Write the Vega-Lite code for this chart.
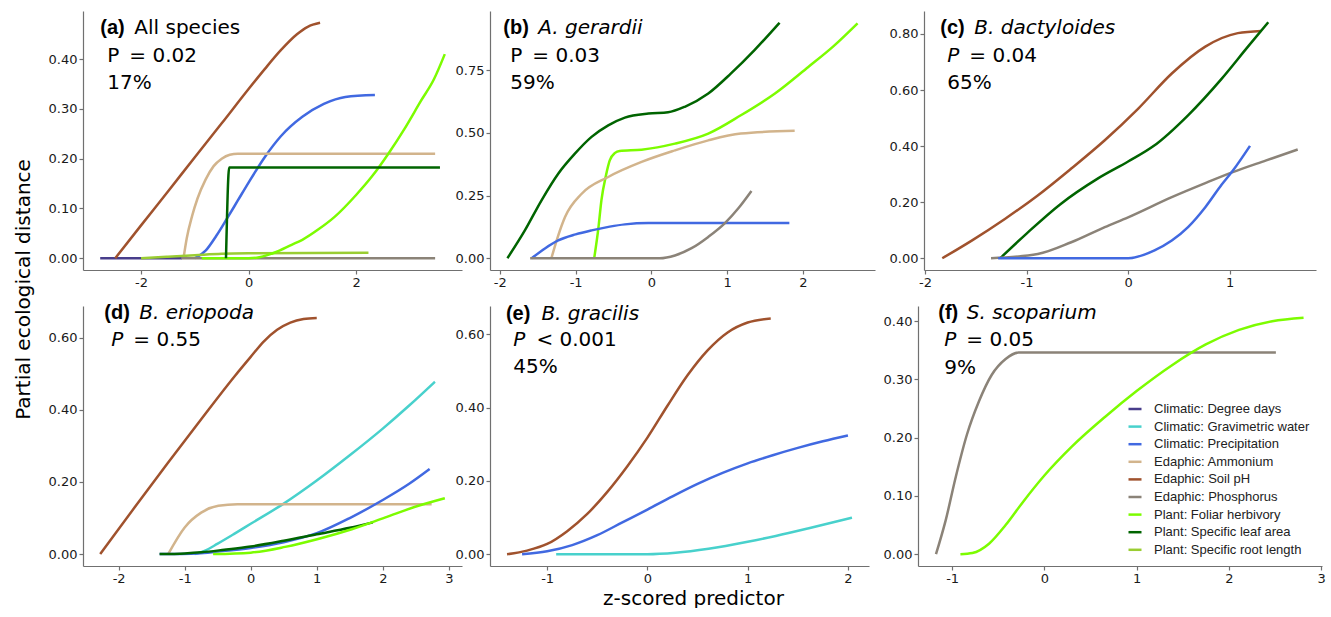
{
  "$schema": "https://vega.github.io/schema/vega-lite/v6.json",
  "background": "white",
  "padding": {"left": 14, "top": 11, "right": 5, "bottom": 0},
  "title": {"text": "Partial ecological distance", "orient": "left", "anchor": "middle", "font": "DejaVu Sans", "fontSize": 20, "fontWeight": "normal", "color": "#000", "offset": 14, "dx": 20},
  "config": {
    "view": {"stroke": null},
    "axis": {"grid": false, "domainColor": "#707070", "domainWidth": 1.2, "tickColor": "#707070", "tickWidth": 1.2, "tickSize": 4, "labelFont": "DejaVu Sans", "labelFontSize": 13, "labelColor": "#1a1a1a", "labelPadding": 2, "labelOverlap": false, "labelFlush": false, "titleFont": "DejaVu Sans", "titleFontSize": 20, "titleFontWeight": "normal", "titleColor": "#000"},
    "text": {"color": "#000"},
    "line": {"strokeWidth": 2.5, "interpolate": "monotone"}
  },
  "datasets": {
    "notes": [
      {"panel": "a", "tag": "(a)", "species": "All species", "p": "P", "stat": "= 0.02", "pct": "17%"},
      {"panel": "b", "tag": "(b)", "species": "A. gerardii", "p": "P", "stat": "= 0.03", "pct": "59%"},
      {"panel": "c", "tag": "(c)", "species": "B. dactyloides", "p": "P", "stat": "= 0.04", "pct": "65%"},
      {"panel": "d", "tag": "(d)", "species": "B. eriopoda", "p": "P", "stat": "= 0.55", "pct": ""},
      {"panel": "e", "tag": "(e)", "species": "B. gracilis", "p": "P", "stat": "< 0.001", "pct": "45%"},
      {"panel": "f", "tag": "(f)", "species": "S. scoparium", "p": "P", "stat": "= 0.05", "pct": "9%"}
    ],
    "curves": [
      {"panel": "a", "predictor": "Climatic: Degree days", "x": -2.76, "y": 0},
      {"panel": "a", "predictor": "Climatic: Degree days", "x": -1.24, "y": 0},
      {"panel": "a", "predictor": "Edaphic: Soil pH", "x": -2.48, "y": 0},
      {"panel": "a", "predictor": "Edaphic: Soil pH", "x": -2.0, "y": 0.066},
      {"panel": "a", "predictor": "Edaphic: Soil pH", "x": -1.5, "y": 0.134},
      {"panel": "a", "predictor": "Edaphic: Soil pH", "x": -1.0, "y": 0.203},
      {"panel": "a", "predictor": "Edaphic: Soil pH", "x": -0.5, "y": 0.271},
      {"panel": "a", "predictor": "Edaphic: Soil pH", "x": 0.0, "y": 0.34},
      {"panel": "a", "predictor": "Edaphic: Soil pH", "x": 0.3, "y": 0.38},
      {"panel": "a", "predictor": "Edaphic: Soil pH", "x": 0.6, "y": 0.418},
      {"panel": "a", "predictor": "Edaphic: Soil pH", "x": 0.9, "y": 0.45},
      {"panel": "a", "predictor": "Edaphic: Soil pH", "x": 1.1, "y": 0.465},
      {"panel": "a", "predictor": "Edaphic: Soil pH", "x": 1.33, "y": 0.473},
      {"panel": "a", "predictor": "Climatic: Precipitation", "x": -1.0, "y": 0},
      {"panel": "a", "predictor": "Climatic: Precipitation", "x": -0.8, "y": 0.015},
      {"panel": "a", "predictor": "Climatic: Precipitation", "x": -0.6, "y": 0.045},
      {"panel": "a", "predictor": "Climatic: Precipitation", "x": -0.4, "y": 0.08},
      {"panel": "a", "predictor": "Climatic: Precipitation", "x": -0.2, "y": 0.116},
      {"panel": "a", "predictor": "Climatic: Precipitation", "x": 0.0, "y": 0.152},
      {"panel": "a", "predictor": "Climatic: Precipitation", "x": 0.3, "y": 0.203},
      {"panel": "a", "predictor": "Climatic: Precipitation", "x": 0.6, "y": 0.245},
      {"panel": "a", "predictor": "Climatic: Precipitation", "x": 1.0, "y": 0.284},
      {"panel": "a", "predictor": "Climatic: Precipitation", "x": 1.4, "y": 0.31},
      {"panel": "a", "predictor": "Climatic: Precipitation", "x": 1.8, "y": 0.324},
      {"panel": "a", "predictor": "Climatic: Precipitation", "x": 2.35, "y": 0.328},
      {"panel": "a", "predictor": "Edaphic: Ammonium", "x": -1.21, "y": 0},
      {"panel": "a", "predictor": "Edaphic: Ammonium", "x": -1.15, "y": 0.04},
      {"panel": "a", "predictor": "Edaphic: Ammonium", "x": -1.05, "y": 0.085},
      {"panel": "a", "predictor": "Edaphic: Ammonium", "x": -0.95, "y": 0.12},
      {"panel": "a", "predictor": "Edaphic: Ammonium", "x": -0.8, "y": 0.158},
      {"panel": "a", "predictor": "Edaphic: Ammonium", "x": -0.65, "y": 0.185},
      {"panel": "a", "predictor": "Edaphic: Ammonium", "x": -0.5, "y": 0.2},
      {"panel": "a", "predictor": "Edaphic: Ammonium", "x": -0.35, "y": 0.208},
      {"panel": "a", "predictor": "Edaphic: Ammonium", "x": -0.2, "y": 0.21},
      {"panel": "a", "predictor": "Edaphic: Ammonium", "x": 3.47, "y": 0.21},
      {"panel": "a", "predictor": "Plant: Specific root length", "x": -2.0, "y": 0},
      {"panel": "a", "predictor": "Plant: Specific root length", "x": -1.5, "y": 0.003},
      {"panel": "a", "predictor": "Plant: Specific root length", "x": -1.0, "y": 0.006},
      {"panel": "a", "predictor": "Plant: Specific root length", "x": -0.5, "y": 0.009},
      {"panel": "a", "predictor": "Plant: Specific root length", "x": 0.0, "y": 0.01},
      {"panel": "a", "predictor": "Plant: Specific root length", "x": 2.23, "y": 0.011},
      {"panel": "a", "predictor": "Edaphic: Phosphorus", "x": -1.25, "y": 0},
      {"panel": "a", "predictor": "Edaphic: Phosphorus", "x": 3.47, "y": 0},
      {"panel": "a", "predictor": "Plant: Foliar herbivory", "x": -0.87, "y": 0},
      {"panel": "a", "predictor": "Plant: Foliar herbivory", "x": 0.0, "y": 0},
      {"panel": "a", "predictor": "Plant: Foliar herbivory", "x": 0.2, "y": 0.002},
      {"panel": "a", "predictor": "Plant: Foliar herbivory", "x": 0.5, "y": 0.012},
      {"panel": "a", "predictor": "Plant: Foliar herbivory", "x": 0.8, "y": 0.027},
      {"panel": "a", "predictor": "Plant: Foliar herbivory", "x": 1.0, "y": 0.037},
      {"panel": "a", "predictor": "Plant: Foliar herbivory", "x": 1.3, "y": 0.058},
      {"panel": "a", "predictor": "Plant: Foliar herbivory", "x": 1.6, "y": 0.083},
      {"panel": "a", "predictor": "Plant: Foliar herbivory", "x": 2.0, "y": 0.127},
      {"panel": "a", "predictor": "Plant: Foliar herbivory", "x": 2.3, "y": 0.165},
      {"panel": "a", "predictor": "Plant: Foliar herbivory", "x": 2.6, "y": 0.21},
      {"panel": "a", "predictor": "Plant: Foliar herbivory", "x": 2.9, "y": 0.26},
      {"panel": "a", "predictor": "Plant: Foliar herbivory", "x": 3.2, "y": 0.315},
      {"panel": "a", "predictor": "Plant: Foliar herbivory", "x": 3.45, "y": 0.36},
      {"panel": "a", "predictor": "Plant: Foliar herbivory", "x": 3.65, "y": 0.41},
      {"panel": "a", "predictor": "Plant: Specific leaf area", "x": -0.42, "y": 0},
      {"panel": "a", "predictor": "Plant: Specific leaf area", "x": -0.36, "y": 0.182},
      {"panel": "a", "predictor": "Plant: Specific leaf area", "x": 3.56, "y": 0.182},

      {"panel": "b", "predictor": "Plant: Specific leaf area", "x": -1.9, "y": 0},
      {"panel": "b", "predictor": "Plant: Specific leaf area", "x": -1.67, "y": 0.111},
      {"panel": "b", "predictor": "Plant: Specific leaf area", "x": -1.45, "y": 0.231},
      {"panel": "b", "predictor": "Plant: Specific leaf area", "x": -1.23, "y": 0.337},
      {"panel": "b", "predictor": "Plant: Specific leaf area", "x": -1.01, "y": 0.417},
      {"panel": "b", "predictor": "Plant: Specific leaf area", "x": -0.79, "y": 0.484},
      {"panel": "b", "predictor": "Plant: Specific leaf area", "x": -0.57, "y": 0.53},
      {"panel": "b", "predictor": "Plant: Specific leaf area", "x": -0.35, "y": 0.561},
      {"panel": "b", "predictor": "Plant: Specific leaf area", "x": -0.04, "y": 0.577},
      {"panel": "b", "predictor": "Plant: Specific leaf area", "x": 0.22, "y": 0.582},
      {"panel": "b", "predictor": "Plant: Specific leaf area", "x": 0.44, "y": 0.604},
      {"panel": "b", "predictor": "Plant: Specific leaf area", "x": 0.75, "y": 0.657},
      {"panel": "b", "predictor": "Plant: Specific leaf area", "x": 1.05, "y": 0.737},
      {"panel": "b", "predictor": "Plant: Specific leaf area", "x": 1.36, "y": 0.83},
      {"panel": "b", "predictor": "Plant: Specific leaf area", "x": 1.69, "y": 0.939},
      {"panel": "b", "predictor": "Plant: Foliar herbivory", "x": -0.755, "y": 0},
      {"panel": "b", "predictor": "Plant: Foliar herbivory", "x": -0.7, "y": 0.12},
      {"panel": "b", "predictor": "Plant: Foliar herbivory", "x": -0.66, "y": 0.231},
      {"panel": "b", "predictor": "Plant: Foliar herbivory", "x": -0.6, "y": 0.33},
      {"panel": "b", "predictor": "Plant: Foliar herbivory", "x": -0.55, "y": 0.39},
      {"panel": "b", "predictor": "Plant: Foliar herbivory", "x": -0.48, "y": 0.42},
      {"panel": "b", "predictor": "Plant: Foliar herbivory", "x": -0.42, "y": 0.428},
      {"panel": "b", "predictor": "Plant: Foliar herbivory", "x": -0.13, "y": 0.433},
      {"panel": "b", "predictor": "Plant: Foliar herbivory", "x": 0.31, "y": 0.457},
      {"panel": "b", "predictor": "Plant: Foliar herbivory", "x": 0.75, "y": 0.497},
      {"panel": "b", "predictor": "Plant: Foliar herbivory", "x": 1.18, "y": 0.57},
      {"panel": "b", "predictor": "Plant: Foliar herbivory", "x": 1.63, "y": 0.657},
      {"panel": "b", "predictor": "Plant: Foliar herbivory", "x": 2.07, "y": 0.763},
      {"panel": "b", "predictor": "Plant: Foliar herbivory", "x": 2.4, "y": 0.845},
      {"panel": "b", "predictor": "Plant: Foliar herbivory", "x": 2.72, "y": 0.937},
      {"panel": "b", "predictor": "Edaphic: Ammonium", "x": -1.32, "y": 0},
      {"panel": "b", "predictor": "Edaphic: Ammonium", "x": -1.23, "y": 0.09},
      {"panel": "b", "predictor": "Edaphic: Ammonium", "x": -1.14, "y": 0.164},
      {"panel": "b", "predictor": "Edaphic: Ammonium", "x": -0.92, "y": 0.257},
      {"panel": "b", "predictor": "Edaphic: Ammonium", "x": -0.57, "y": 0.324},
      {"panel": "b", "predictor": "Edaphic: Ammonium", "x": -0.13, "y": 0.384},
      {"panel": "b", "predictor": "Edaphic: Ammonium", "x": 0.31, "y": 0.43},
      {"panel": "b", "predictor": "Edaphic: Ammonium", "x": 0.75, "y": 0.47},
      {"panel": "b", "predictor": "Edaphic: Ammonium", "x": 1.18, "y": 0.497},
      {"panel": "b", "predictor": "Edaphic: Ammonium", "x": 1.89, "y": 0.508},
      {"panel": "b", "predictor": "Climatic: Precipitation", "x": -1.58, "y": 0},
      {"panel": "b", "predictor": "Climatic: Precipitation", "x": -1.4, "y": 0.04},
      {"panel": "b", "predictor": "Climatic: Precipitation", "x": -1.23, "y": 0.071},
      {"panel": "b", "predictor": "Climatic: Precipitation", "x": -1.0, "y": 0.095},
      {"panel": "b", "predictor": "Climatic: Precipitation", "x": -0.79, "y": 0.111},
      {"panel": "b", "predictor": "Climatic: Precipitation", "x": -0.55, "y": 0.126},
      {"panel": "b", "predictor": "Climatic: Precipitation", "x": -0.35, "y": 0.135},
      {"panel": "b", "predictor": "Climatic: Precipitation", "x": -0.04, "y": 0.14},
      {"panel": "b", "predictor": "Climatic: Precipitation", "x": 1.82, "y": 0.14},
      {"panel": "b", "predictor": "Edaphic: Phosphorus", "x": -1.6, "y": 0},
      {"panel": "b", "predictor": "Edaphic: Phosphorus", "x": 0.11, "y": 0},
      {"panel": "b", "predictor": "Edaphic: Phosphorus", "x": 0.31, "y": 0.011},
      {"panel": "b", "predictor": "Edaphic: Phosphorus", "x": 0.53, "y": 0.04},
      {"panel": "b", "predictor": "Edaphic: Phosphorus", "x": 0.75, "y": 0.085},
      {"panel": "b", "predictor": "Edaphic: Phosphorus", "x": 0.97, "y": 0.14},
      {"panel": "b", "predictor": "Edaphic: Phosphorus", "x": 1.15, "y": 0.2},
      {"panel": "b", "predictor": "Edaphic: Phosphorus", "x": 1.32, "y": 0.268},

      {"panel": "c", "predictor": "Edaphic: Soil pH", "x": -1.83, "y": 0},
      {"panel": "c", "predictor": "Edaphic: Soil pH", "x": -1.54, "y": 0.063},
      {"panel": "c", "predictor": "Edaphic: Soil pH", "x": -1.21, "y": 0.141},
      {"panel": "c", "predictor": "Edaphic: Soil pH", "x": -0.89, "y": 0.224},
      {"panel": "c", "predictor": "Edaphic: Soil pH", "x": -0.56, "y": 0.32},
      {"panel": "c", "predictor": "Edaphic: Soil pH", "x": -0.23, "y": 0.421},
      {"panel": "c", "predictor": "Edaphic: Soil pH", "x": 0.1, "y": 0.534},
      {"panel": "c", "predictor": "Edaphic: Soil pH", "x": 0.43, "y": 0.659},
      {"panel": "c", "predictor": "Edaphic: Soil pH", "x": 0.76, "y": 0.755},
      {"panel": "c", "predictor": "Edaphic: Soil pH", "x": 1.08, "y": 0.803},
      {"panel": "c", "predictor": "Edaphic: Soil pH", "x": 1.31, "y": 0.811},
      {"panel": "c", "predictor": "Plant: Specific leaf area", "x": -1.26, "y": 0},
      {"panel": "c", "predictor": "Plant: Specific leaf area", "x": -1.0, "y": 0.088},
      {"panel": "c", "predictor": "Plant: Specific leaf area", "x": -0.67, "y": 0.192},
      {"panel": "c", "predictor": "Plant: Specific leaf area", "x": -0.3, "y": 0.284},
      {"panel": "c", "predictor": "Plant: Specific leaf area", "x": 0.0, "y": 0.345},
      {"panel": "c", "predictor": "Plant: Specific leaf area", "x": 0.25, "y": 0.4},
      {"panel": "c", "predictor": "Plant: Specific leaf area", "x": 0.59, "y": 0.51},
      {"panel": "c", "predictor": "Plant: Specific leaf area", "x": 0.92, "y": 0.64},
      {"panel": "c", "predictor": "Plant: Specific leaf area", "x": 1.18, "y": 0.755},
      {"panel": "c", "predictor": "Plant: Specific leaf area", "x": 1.38, "y": 0.842},
      {"panel": "c", "predictor": "Edaphic: Phosphorus", "x": -1.35, "y": 0},
      {"panel": "c", "predictor": "Edaphic: Phosphorus", "x": -0.89, "y": 0.015},
      {"panel": "c", "predictor": "Edaphic: Phosphorus", "x": -0.56, "y": 0.057},
      {"panel": "c", "predictor": "Edaphic: Phosphorus", "x": -0.23, "y": 0.111},
      {"panel": "c", "predictor": "Edaphic: Phosphorus", "x": 0.0, "y": 0.146},
      {"panel": "c", "predictor": "Edaphic: Phosphorus", "x": 0.43, "y": 0.218},
      {"panel": "c", "predictor": "Edaphic: Phosphorus", "x": 0.76, "y": 0.268},
      {"panel": "c", "predictor": "Edaphic: Phosphorus", "x": 1.03, "y": 0.307},
      {"panel": "c", "predictor": "Edaphic: Phosphorus", "x": 1.36, "y": 0.349},
      {"panel": "c", "predictor": "Edaphic: Phosphorus", "x": 1.67, "y": 0.388},
      {"panel": "c", "predictor": "Climatic: Precipitation", "x": -1.28, "y": 0},
      {"panel": "c", "predictor": "Climatic: Precipitation", "x": 0.0, "y": 0},
      {"panel": "c", "predictor": "Climatic: Precipitation", "x": 0.26, "y": 0.028},
      {"panel": "c", "predictor": "Climatic: Precipitation", "x": 0.43, "y": 0.063},
      {"panel": "c", "predictor": "Climatic: Precipitation", "x": 0.59, "y": 0.111},
      {"panel": "c", "predictor": "Climatic: Precipitation", "x": 0.76, "y": 0.182},
      {"panel": "c", "predictor": "Climatic: Precipitation", "x": 0.92, "y": 0.262},
      {"panel": "c", "predictor": "Climatic: Precipitation", "x": 1.03, "y": 0.312},
      {"panel": "c", "predictor": "Climatic: Precipitation", "x": 1.2, "y": 0.401},

      {"panel": "d", "predictor": "Edaphic: Soil pH", "x": -2.28, "y": 0},
      {"panel": "d", "predictor": "Edaphic: Soil pH", "x": -1.76, "y": 0.129},
      {"panel": "d", "predictor": "Edaphic: Soil pH", "x": -1.25, "y": 0.254},
      {"panel": "d", "predictor": "Edaphic: Soil pH", "x": -0.75, "y": 0.374},
      {"panel": "d", "predictor": "Edaphic: Soil pH", "x": -0.24, "y": 0.494},
      {"panel": "d", "predictor": "Edaphic: Soil pH", "x": 0.0, "y": 0.547},
      {"panel": "d", "predictor": "Edaphic: Soil pH", "x": 0.2, "y": 0.59},
      {"panel": "d", "predictor": "Edaphic: Soil pH", "x": 0.4, "y": 0.622},
      {"panel": "d", "predictor": "Edaphic: Soil pH", "x": 0.6, "y": 0.642},
      {"panel": "d", "predictor": "Edaphic: Soil pH", "x": 0.8, "y": 0.652},
      {"panel": "d", "predictor": "Edaphic: Soil pH", "x": 1.0, "y": 0.655},
      {"panel": "d", "predictor": "Climatic: Gravimetric water", "x": -0.85, "y": 0},
      {"panel": "d", "predictor": "Climatic: Gravimetric water", "x": -0.7, "y": 0.009},
      {"panel": "d", "predictor": "Climatic: Gravimetric water", "x": -0.5, "y": 0.029},
      {"panel": "d", "predictor": "Climatic: Gravimetric water", "x": -0.25, "y": 0.056},
      {"panel": "d", "predictor": "Climatic: Gravimetric water", "x": 0.0, "y": 0.084},
      {"panel": "d", "predictor": "Climatic: Gravimetric water", "x": 0.5, "y": 0.14},
      {"panel": "d", "predictor": "Climatic: Gravimetric water", "x": 1.0, "y": 0.204},
      {"panel": "d", "predictor": "Climatic: Gravimetric water", "x": 1.5, "y": 0.274},
      {"panel": "d", "predictor": "Climatic: Gravimetric water", "x": 2.0, "y": 0.348},
      {"panel": "d", "predictor": "Climatic: Gravimetric water", "x": 2.4, "y": 0.412},
      {"panel": "d", "predictor": "Climatic: Gravimetric water", "x": 2.79, "y": 0.478},
      {"panel": "d", "predictor": "Edaphic: Ammonium", "x": -1.25, "y": 0},
      {"panel": "d", "predictor": "Edaphic: Ammonium", "x": -1.0, "y": 0.074},
      {"panel": "d", "predictor": "Edaphic: Ammonium", "x": -0.75, "y": 0.115},
      {"panel": "d", "predictor": "Edaphic: Ammonium", "x": -0.49, "y": 0.134},
      {"panel": "d", "predictor": "Edaphic: Ammonium", "x": -0.2, "y": 0.1385},
      {"panel": "d", "predictor": "Edaphic: Ammonium", "x": 2.74, "y": 0.1385},
      {"panel": "d", "predictor": "Climatic: Precipitation", "x": -1.38, "y": 0},
      {"panel": "d", "predictor": "Climatic: Precipitation", "x": -0.8, "y": 0.002},
      {"panel": "d", "predictor": "Climatic: Precipitation", "x": -0.5, "y": 0.007},
      {"panel": "d", "predictor": "Climatic: Precipitation", "x": 0.0, "y": 0.017},
      {"panel": "d", "predictor": "Climatic: Precipitation", "x": 0.5, "y": 0.033},
      {"panel": "d", "predictor": "Climatic: Precipitation", "x": 1.0, "y": 0.058},
      {"panel": "d", "predictor": "Climatic: Precipitation", "x": 1.5, "y": 0.1},
      {"panel": "d", "predictor": "Climatic: Precipitation", "x": 2.0, "y": 0.15},
      {"panel": "d", "predictor": "Climatic: Precipitation", "x": 2.4, "y": 0.195},
      {"panel": "d", "predictor": "Climatic: Precipitation", "x": 2.71, "y": 0.236},
      {"panel": "d", "predictor": "Plant: Specific leaf area", "x": -1.38, "y": 0},
      {"panel": "d", "predictor": "Plant: Specific leaf area", "x": -1.0, "y": 0.002},
      {"panel": "d", "predictor": "Plant: Specific leaf area", "x": -0.75, "y": 0.005},
      {"panel": "d", "predictor": "Plant: Specific leaf area", "x": -0.4, "y": 0.012},
      {"panel": "d", "predictor": "Plant: Specific leaf area", "x": 0.0, "y": 0.021},
      {"panel": "d", "predictor": "Plant: Specific leaf area", "x": 0.5, "y": 0.037},
      {"panel": "d", "predictor": "Plant: Specific leaf area", "x": 1.0, "y": 0.055},
      {"panel": "d", "predictor": "Plant: Specific leaf area", "x": 1.5, "y": 0.073},
      {"panel": "d", "predictor": "Plant: Specific leaf area", "x": 1.85, "y": 0.088},
      {"panel": "d", "predictor": "Plant: Foliar herbivory", "x": -0.57, "y": 0},
      {"panel": "d", "predictor": "Plant: Foliar herbivory", "x": 0.0, "y": 0.004},
      {"panel": "d", "predictor": "Plant: Foliar herbivory", "x": 0.52, "y": 0.02},
      {"panel": "d", "predictor": "Plant: Foliar herbivory", "x": 1.02, "y": 0.042},
      {"panel": "d", "predictor": "Plant: Foliar herbivory", "x": 1.53, "y": 0.069},
      {"panel": "d", "predictor": "Plant: Foliar herbivory", "x": 2.03, "y": 0.101},
      {"panel": "d", "predictor": "Plant: Foliar herbivory", "x": 2.54, "y": 0.134},
      {"panel": "d", "predictor": "Plant: Foliar herbivory", "x": 2.94, "y": 0.155},

      {"panel": "e", "predictor": "Edaphic: Soil pH", "x": -1.4, "y": 0},
      {"panel": "e", "predictor": "Edaphic: Soil pH", "x": -1.2, "y": 0.01},
      {"panel": "e", "predictor": "Edaphic: Soil pH", "x": -1.0, "y": 0.028},
      {"panel": "e", "predictor": "Edaphic: Soil pH", "x": -0.8, "y": 0.063},
      {"panel": "e", "predictor": "Edaphic: Soil pH", "x": -0.6, "y": 0.11},
      {"panel": "e", "predictor": "Edaphic: Soil pH", "x": -0.4, "y": 0.17},
      {"panel": "e", "predictor": "Edaphic: Soil pH", "x": -0.2, "y": 0.24},
      {"panel": "e", "predictor": "Edaphic: Soil pH", "x": 0.0, "y": 0.318},
      {"panel": "e", "predictor": "Edaphic: Soil pH", "x": 0.2, "y": 0.405},
      {"panel": "e", "predictor": "Edaphic: Soil pH", "x": 0.4, "y": 0.488},
      {"panel": "e", "predictor": "Edaphic: Soil pH", "x": 0.6, "y": 0.556},
      {"panel": "e", "predictor": "Edaphic: Soil pH", "x": 0.8, "y": 0.605},
      {"panel": "e", "predictor": "Edaphic: Soil pH", "x": 1.0, "y": 0.632},
      {"panel": "e", "predictor": "Edaphic: Soil pH", "x": 1.23, "y": 0.643},
      {"panel": "e", "predictor": "Climatic: Precipitation", "x": -1.25, "y": 0},
      {"panel": "e", "predictor": "Climatic: Precipitation", "x": -1.0, "y": 0.008},
      {"panel": "e", "predictor": "Climatic: Precipitation", "x": -0.75, "y": 0.025},
      {"panel": "e", "predictor": "Climatic: Precipitation", "x": -0.5, "y": 0.052},
      {"panel": "e", "predictor": "Climatic: Precipitation", "x": -0.25, "y": 0.087},
      {"panel": "e", "predictor": "Climatic: Precipitation", "x": 0.0, "y": 0.122},
      {"panel": "e", "predictor": "Climatic: Precipitation", "x": 0.25, "y": 0.158},
      {"panel": "e", "predictor": "Climatic: Precipitation", "x": 0.5, "y": 0.192},
      {"panel": "e", "predictor": "Climatic: Precipitation", "x": 0.75, "y": 0.222},
      {"panel": "e", "predictor": "Climatic: Precipitation", "x": 1.0, "y": 0.248},
      {"panel": "e", "predictor": "Climatic: Precipitation", "x": 1.25, "y": 0.27},
      {"panel": "e", "predictor": "Climatic: Precipitation", "x": 1.5, "y": 0.29},
      {"panel": "e", "predictor": "Climatic: Precipitation", "x": 1.75, "y": 0.308},
      {"panel": "e", "predictor": "Climatic: Precipitation", "x": 2.0, "y": 0.324},
      {"panel": "e", "predictor": "Climatic: Gravimetric water", "x": -0.91, "y": 0},
      {"panel": "e", "predictor": "Climatic: Gravimetric water", "x": 0.0, "y": 0},
      {"panel": "e", "predictor": "Climatic: Gravimetric water", "x": 0.28, "y": 0.004},
      {"panel": "e", "predictor": "Climatic: Gravimetric water", "x": 0.61, "y": 0.015},
      {"panel": "e", "predictor": "Climatic: Gravimetric water", "x": 1.0, "y": 0.034},
      {"panel": "e", "predictor": "Climatic: Gravimetric water", "x": 1.28, "y": 0.05},
      {"panel": "e", "predictor": "Climatic: Gravimetric water", "x": 1.61, "y": 0.071},
      {"panel": "e", "predictor": "Climatic: Gravimetric water", "x": 2.04, "y": 0.1},

      {"panel": "f", "predictor": "Edaphic: Phosphorus", "x": -1.175, "y": 0},
      {"panel": "f", "predictor": "Edaphic: Phosphorus", "x": -1.07, "y": 0.058},
      {"panel": "f", "predictor": "Edaphic: Phosphorus", "x": -0.96, "y": 0.133},
      {"panel": "f", "predictor": "Edaphic: Phosphorus", "x": -0.84, "y": 0.205},
      {"panel": "f", "predictor": "Edaphic: Phosphorus", "x": -0.71, "y": 0.262},
      {"panel": "f", "predictor": "Edaphic: Phosphorus", "x": -0.57, "y": 0.308},
      {"panel": "f", "predictor": "Edaphic: Phosphorus", "x": -0.42, "y": 0.335},
      {"panel": "f", "predictor": "Edaphic: Phosphorus", "x": -0.28, "y": 0.346},
      {"panel": "f", "predictor": "Edaphic: Phosphorus", "x": 2.51, "y": 0.346},
      {"panel": "f", "predictor": "Plant: Foliar herbivory", "x": -0.91, "y": 0},
      {"panel": "f", "predictor": "Plant: Foliar herbivory", "x": -0.78, "y": 0.002},
      {"panel": "f", "predictor": "Plant: Foliar herbivory", "x": -0.6, "y": 0.018},
      {"panel": "f", "predictor": "Plant: Foliar herbivory", "x": -0.42, "y": 0.05},
      {"panel": "f", "predictor": "Plant: Foliar herbivory", "x": -0.24, "y": 0.088},
      {"panel": "f", "predictor": "Plant: Foliar herbivory", "x": 0.0, "y": 0.135},
      {"panel": "f", "predictor": "Plant: Foliar herbivory", "x": 0.3, "y": 0.185},
      {"panel": "f", "predictor": "Plant: Foliar herbivory", "x": 0.66, "y": 0.236},
      {"panel": "f", "predictor": "Plant: Foliar herbivory", "x": 1.0, "y": 0.28},
      {"panel": "f", "predictor": "Plant: Foliar herbivory", "x": 1.38, "y": 0.324},
      {"panel": "f", "predictor": "Plant: Foliar herbivory", "x": 1.75, "y": 0.36},
      {"panel": "f", "predictor": "Plant: Foliar herbivory", "x": 2.11, "y": 0.385},
      {"panel": "f", "predictor": "Plant: Foliar herbivory", "x": 2.47, "y": 0.4},
      {"panel": "f", "predictor": "Plant: Foliar herbivory", "x": 2.81, "y": 0.406}
    ]
  },
  "columns": 3,
  "bounds": "flush",
  "spacing": {"row": 36, "column": 28},
  "resolve": {"scale": {"color": "independent"}, "legend": {"color": "independent"}},
  "concat": [
    {
      "width": 379, "height": 259,
      "layer": [
        {"data": {"name": "curves"}, "transform": [{"filter": "datum.panel === 'a'"}],
         "mark": {"type": "line"},
         "encoding": {
           "x": {"field": "x", "type": "quantitative", "scale": {"domain": [-3.08, 3.97], "nice": false, "zero": false}, "axis": {"title": null, "values": [-2, 0, 2], "labelExpr": "'' + datum.value"}},
           "y": {"field": "y", "type": "quantitative", "scale": {"domain": [-0.0237, 0.4967], "nice": false, "zero": false}, "axis": {"title": null, "values": [0, 0.1, 0.2, 0.3, 0.4], "format": ".2f"}},
           "color": {"field": "predictor", "type": "nominal", "legend": null,
             "scale": {"domain": ["Climatic: Degree days", "Climatic: Gravimetric water", "Climatic: Precipitation", "Edaphic: Ammonium", "Edaphic: Soil pH", "Edaphic: Phosphorus", "Plant: Foliar herbivory", "Plant: Specific leaf area", "Plant: Specific root length"],
                       "range": ["#483D8B", "#48D1CC", "#4169E1", "#D2B48C", "#A0522D", "#8B8378", "#7CFC00", "#006400", "#9ACD32"]}}
         }},
        {"data": {"name": "notes"}, "transform": [{"filter": "datum.panel === 'a'"}],
         "mark": {"type": "text", "align": "left", "baseline": "alphabetic", "font": "Liberation Sans", "fontWeight": "bold", "fontSize": 20},
         "encoding": {"x": {"datum": -2.758, "title": null}, "y": {"datum": 0.4513, "title": null}, "text": {"field": "tag"}}},
        {"data": {"name": "notes"}, "transform": [{"filter": "datum.panel === 'a'"}],
         "mark": {"type": "text", "align": "left", "baseline": "alphabetic", "font": "DejaVu Sans", "fontSize": 20, "dx": 34},
         "encoding": {"x": {"datum": -2.758, "title": null}, "y": {"datum": 0.4513, "title": null}, "text": {"field": "species"}}},
        {"data": {"name": "notes"}, "transform": [{"filter": "datum.panel === 'a'"}],
         "mark": {"type": "text", "align": "left", "baseline": "alphabetic", "font": "DejaVu Sans", "fontSize": 20, "dx": 7, "dy": 28.4},
         "encoding": {"x": {"datum": -2.758, "title": null}, "y": {"datum": 0.4513, "title": null}, "text": {"field": "p"}}},
        {"data": {"name": "notes"}, "transform": [{"filter": "datum.panel === 'a'"}],
         "mark": {"type": "text", "align": "left", "baseline": "alphabetic", "font": "DejaVu Sans", "fontSize": 20, "dx": 29, "dy": 28.4},
         "encoding": {"x": {"datum": -2.758, "title": null}, "y": {"datum": 0.4513, "title": null}, "text": {"field": "stat"}}},
        {"data": {"name": "notes"}, "transform": [{"filter": "datum.panel === 'a'"}],
         "mark": {"type": "text", "align": "left", "baseline": "alphabetic", "font": "DejaVu Sans", "fontSize": 20, "dx": 7, "dy": 55},
         "encoding": {"x": {"datum": -2.758, "title": null}, "y": {"datum": 0.4513, "title": null}, "text": {"field": "pct"}}}
      ]
    },
    {
      "width": 385, "height": 259,
      "layer": [
        {"data": {"name": "curves"}, "transform": [{"filter": "datum.panel === 'b'"}],
         "mark": {"type": "line"},
         "encoding": {
           "x": {"field": "x", "type": "quantitative", "scale": {"domain": [-2.13, 2.95], "nice": false, "zero": false}, "axis": {"title": null, "values": [-2, -1, 0, 1, 2], "labelExpr": "'' + datum.value"}},
           "y": {"field": "y", "type": "quantitative", "scale": {"domain": [-0.047, 0.986], "nice": false, "zero": false}, "axis": {"title": null, "values": [0, 0.25, 0.5, 0.75], "format": ".2f"}},
           "color": {"field": "predictor", "type": "nominal", "legend": null,
             "scale": {"domain": ["Climatic: Degree days", "Climatic: Gravimetric water", "Climatic: Precipitation", "Edaphic: Ammonium", "Edaphic: Soil pH", "Edaphic: Phosphorus", "Plant: Foliar herbivory", "Plant: Specific leaf area", "Plant: Specific root length"],
                       "range": ["#483D8B", "#48D1CC", "#4169E1", "#D2B48C", "#A0522D", "#8B8378", "#7CFC00", "#006400", "#9ACD32"]}}
         }},
        {"data": {"name": "notes"}, "transform": [{"filter": "datum.panel === 'b'"}],
         "mark": {"type": "text", "align": "left", "baseline": "alphabetic", "font": "Liberation Sans", "fontWeight": "bold", "fontSize": 20},
         "encoding": {"x": {"datum": -1.9545, "title": null}, "y": {"datum": 0.8959, "title": null}, "text": {"field": "tag"}}},
        {"data": {"name": "notes"}, "transform": [{"filter": "datum.panel === 'b'"}],
         "mark": {"type": "text", "align": "left", "baseline": "alphabetic", "font": "DejaVu Sans", "fontStyle": "italic", "fontSize": 20, "dx": 35},
         "encoding": {"x": {"datum": -1.9545, "title": null}, "y": {"datum": 0.8959, "title": null}, "text": {"field": "species"}}},
        {"data": {"name": "notes"}, "transform": [{"filter": "datum.panel === 'b'"}],
         "mark": {"type": "text", "align": "left", "baseline": "alphabetic", "font": "DejaVu Sans", "fontSize": 20, "dx": 7, "dy": 28.4},
         "encoding": {"x": {"datum": -1.9545, "title": null}, "y": {"datum": 0.8959, "title": null}, "text": {"field": "p"}}},
        {"data": {"name": "notes"}, "transform": [{"filter": "datum.panel === 'b'"}],
         "mark": {"type": "text", "align": "left", "baseline": "alphabetic", "font": "DejaVu Sans", "fontSize": 20, "dx": 29, "dy": 28.4},
         "encoding": {"x": {"datum": -1.9545, "title": null}, "y": {"datum": 0.8959, "title": null}, "text": {"field": "stat"}}},
        {"data": {"name": "notes"}, "transform": [{"filter": "datum.panel === 'b'"}],
         "mark": {"type": "text", "align": "left", "baseline": "alphabetic", "font": "DejaVu Sans", "fontSize": 20, "dx": 7, "dy": 55},
         "encoding": {"x": {"datum": -1.9545, "title": null}, "y": {"datum": 0.8959, "title": null}, "text": {"field": "pct"}}}
      ]
    },
    {
      "width": 413, "height": 259,
      "layer": [
        {"data": {"name": "curves"}, "transform": [{"filter": "datum.panel === 'c'"}],
         "mark": {"type": "line"},
         "encoding": {
           "x": {"field": "x", "type": "quantitative", "scale": {"domain": [-2.01, 1.85], "range": [21, 413], "nice": false, "zero": false}, "axis": {"title": null, "values": [-2, -1, 0, 1], "labelExpr": "'' + datum.value"}},
           "y": {"field": "y", "type": "quantitative", "scale": {"domain": [-0.042, 0.882], "nice": false, "zero": false}, "axis": {"title": null, "offset": -21, "values": [0, 0.2, 0.4, 0.6, 0.8], "format": ".2f"}},
           "color": {"field": "predictor", "type": "nominal", "legend": null,
             "scale": {"domain": ["Climatic: Degree days", "Climatic: Gravimetric water", "Climatic: Precipitation", "Edaphic: Ammonium", "Edaphic: Soil pH", "Edaphic: Phosphorus", "Plant: Foliar herbivory", "Plant: Specific leaf area", "Plant: Specific root length"],
                       "range": ["#483D8B", "#48D1CC", "#4169E1", "#D2B48C", "#A0522D", "#8B8378", "#7CFC00", "#006400", "#9ACD32"]}}
         }},
        {"data": {"name": "notes"}, "transform": [{"filter": "datum.panel === 'c'"}],
         "mark": {"type": "text", "align": "left", "baseline": "alphabetic", "font": "Liberation Sans", "fontWeight": "bold", "fontSize": 20},
         "encoding": {"x": {"datum": -1.8495, "title": null}, "y": {"datum": 0.8014, "title": null}, "text": {"field": "tag"}}},
        {"data": {"name": "notes"}, "transform": [{"filter": "datum.panel === 'c'"}],
         "mark": {"type": "text", "align": "left", "baseline": "alphabetic", "font": "DejaVu Sans", "fontStyle": "italic", "fontSize": 20, "dx": 34},
         "encoding": {"x": {"datum": -1.8495, "title": null}, "y": {"datum": 0.8014, "title": null}, "text": {"field": "species"}}},
        {"data": {"name": "notes"}, "transform": [{"filter": "datum.panel === 'c'"}],
         "mark": {"type": "text", "align": "left", "baseline": "alphabetic", "font": "DejaVu Sans", "fontStyle": "italic", "fontSize": 20, "dx": 7, "dy": 28.4},
         "encoding": {"x": {"datum": -1.8495, "title": null}, "y": {"datum": 0.8014, "title": null}, "text": {"field": "p"}}},
        {"data": {"name": "notes"}, "transform": [{"filter": "datum.panel === 'c'"}],
         "mark": {"type": "text", "align": "left", "baseline": "alphabetic", "font": "DejaVu Sans", "fontSize": 20, "dx": 29, "dy": 28.4},
         "encoding": {"x": {"datum": -1.8495, "title": null}, "y": {"datum": 0.8014, "title": null}, "text": {"field": "stat"}}},
        {"data": {"name": "notes"}, "transform": [{"filter": "datum.panel === 'c'"}],
         "mark": {"type": "text", "align": "left", "baseline": "alphabetic", "font": "DejaVu Sans", "fontSize": 20, "dx": 7, "dy": 55},
         "encoding": {"x": {"datum": -1.8495, "title": null}, "y": {"datum": 0.8014, "title": null}, "text": {"field": "pct"}}}
      ]
    },
    {
      "width": 379, "height": 260,
      "layer": [
        {"data": {"name": "curves"}, "transform": [{"filter": "datum.panel === 'd'"}],
         "mark": {"type": "line"},
         "encoding": {
           "x": {"field": "x", "type": "quantitative", "scale": {"domain": [-2.54, 3.2], "nice": false, "zero": false}, "axis": {"title": null, "values": [-2, -1, 0, 1, 2, 3], "labelExpr": "'' + datum.value"}},
           "y": {"field": "y", "type": "quantitative", "scale": {"domain": [-0.033, 0.688], "nice": false, "zero": false}, "axis": {"title": null, "values": [0, 0.2, 0.4, 0.6], "format": ".2f"}},
           "color": {"field": "predictor", "type": "nominal", "legend": null,
             "scale": {"domain": ["Climatic: Degree days", "Climatic: Gravimetric water", "Climatic: Precipitation", "Edaphic: Ammonium", "Edaphic: Soil pH", "Edaphic: Phosphorus", "Plant: Foliar herbivory", "Plant: Specific leaf area", "Plant: Specific root length"],
                       "range": ["#483D8B", "#48D1CC", "#4169E1", "#D2B48C", "#A0522D", "#8B8378", "#7CFC00", "#006400", "#9ACD32"]}}
         }},
        {"data": {"name": "notes"}, "transform": [{"filter": "datum.panel === 'd'"}],
         "mark": {"type": "text", "align": "left", "baseline": "alphabetic", "font": "Liberation Sans", "fontWeight": "bold", "fontSize": 20},
         "encoding": {"x": {"datum": -2.2174, "title": null}, "y": {"datum": 0.652, "title": null}, "text": {"field": "tag"}}},
        {"data": {"name": "notes"}, "transform": [{"filter": "datum.panel === 'd'"}],
         "mark": {"type": "text", "align": "left", "baseline": "alphabetic", "font": "DejaVu Sans", "fontStyle": "italic", "fontSize": 20, "dx": 35},
         "encoding": {"x": {"datum": -2.2174, "title": null}, "y": {"datum": 0.652, "title": null}, "text": {"field": "species"}}},
        {"data": {"name": "notes"}, "transform": [{"filter": "datum.panel === 'd'"}],
         "mark": {"type": "text", "align": "left", "baseline": "alphabetic", "font": "DejaVu Sans", "fontStyle": "italic", "fontSize": 20, "dx": 7, "dy": 26.7},
         "encoding": {"x": {"datum": -2.2174, "title": null}, "y": {"datum": 0.652, "title": null}, "text": {"field": "p"}}},
        {"data": {"name": "notes"}, "transform": [{"filter": "datum.panel === 'd'"}],
         "mark": {"type": "text", "align": "left", "baseline": "alphabetic", "font": "DejaVu Sans", "fontSize": 20, "dx": 29, "dy": 26.7},
         "encoding": {"x": {"datum": -2.2174, "title": null}, "y": {"datum": 0.652, "title": null}, "text": {"field": "stat"}}}
      ]
    },
    {
      "width": 379, "height": 260,
      "layer": [
        {"data": {"name": "curves"}, "transform": [{"filter": "datum.panel === 'e'"}],
         "mark": {"type": "line"},
         "encoding": {
           "x": {"field": "x", "type": "quantitative", "scale": {"domain": [-1.57, 2.21], "nice": false, "zero": false}, "axis": {"title": "z-scored predictor", "titleX": 203, "titlePadding": 3, "values": [-1, 0, 1, 2], "labelExpr": "'' + datum.value"}},
           "y": {"field": "y", "type": "quantitative", "scale": {"domain": [-0.032, 0.677], "nice": false, "zero": false}, "axis": {"title": null, "values": [0, 0.2, 0.4, 0.6], "format": ".2f"}},
           "color": {"field": "predictor", "type": "nominal", "legend": null,
             "scale": {"domain": ["Climatic: Degree days", "Climatic: Gravimetric water", "Climatic: Precipitation", "Edaphic: Ammonium", "Edaphic: Soil pH", "Edaphic: Phosphorus", "Plant: Foliar herbivory", "Plant: Specific leaf area", "Plant: Specific root length"],
                       "range": ["#483D8B", "#48D1CC", "#4169E1", "#D2B48C", "#A0522D", "#8B8378", "#7CFC00", "#006400", "#9ACD32"]}}
         }},
        {"data": {"name": "notes"}, "transform": [{"filter": "datum.panel === 'e'"}],
         "mark": {"type": "text", "align": "left", "baseline": "alphabetic", "font": "Liberation Sans", "fontWeight": "bold", "fontSize": 20},
         "encoding": {"x": {"datum": -1.4114, "title": null}, "y": {"datum": 0.6388, "title": null}, "text": {"field": "tag"}}},
        {"data": {"name": "notes"}, "transform": [{"filter": "datum.panel === 'e'"}],
         "mark": {"type": "text", "align": "left", "baseline": "alphabetic", "font": "DejaVu Sans", "fontStyle": "italic", "fontSize": 20, "dx": 35.5},
         "encoding": {"x": {"datum": -1.4114, "title": null}, "y": {"datum": 0.6388, "title": null}, "text": {"field": "species"}}},
        {"data": {"name": "notes"}, "transform": [{"filter": "datum.panel === 'e'"}],
         "mark": {"type": "text", "align": "left", "baseline": "alphabetic", "font": "DejaVu Sans", "fontStyle": "italic", "fontSize": 20, "dx": 7.4, "dy": 25.7},
         "encoding": {"x": {"datum": -1.4114, "title": null}, "y": {"datum": 0.6388, "title": null}, "text": {"field": "p"}}},
        {"data": {"name": "notes"}, "transform": [{"filter": "datum.panel === 'e'"}],
         "mark": {"type": "text", "align": "left", "baseline": "alphabetic", "font": "DejaVu Sans", "fontSize": 20, "dx": 30.5, "dy": 25.7},
         "encoding": {"x": {"datum": -1.4114, "title": null}, "y": {"datum": 0.6388, "title": null}, "text": {"field": "stat"}}},
        {"data": {"name": "notes"}, "transform": [{"filter": "datum.panel === 'e'"}],
         "mark": {"type": "text", "align": "left", "baseline": "alphabetic", "font": "DejaVu Sans", "fontSize": 20, "dx": 7.4, "dy": 53},
         "encoding": {"x": {"datum": -1.4114, "title": null}, "y": {"datum": 0.6388, "title": null}, "text": {"field": "pct"}}}
      ]
    },
    {
      "width": 419, "height": 260,
      "layer": [
        {"data": {"name": "curves"}, "transform": [{"filter": "datum.panel === 'f'"}],
         "mark": {"type": "line"},
         "encoding": {
           "x": {"field": "x", "type": "quantitative", "scale": {"domain": [-1.37, 3.01], "range": [15, 419], "nice": false, "zero": false}, "axis": {"title": null, "values": [-1, 0, 1, 2, 3], "labelExpr": "'' + datum.value"}},
           "y": {"field": "y", "type": "quantitative", "scale": {"domain": [-0.0203, 0.426], "nice": false, "zero": false}, "axis": {"title": null, "offset": -15, "values": [0, 0.1, 0.2, 0.3, 0.4], "format": ".2f"}},
           "color": {"field": "predictor", "type": "nominal",
             "scale": {"domain": ["Climatic: Degree days", "Climatic: Gravimetric water", "Climatic: Precipitation", "Edaphic: Ammonium", "Edaphic: Soil pH", "Edaphic: Phosphorus", "Plant: Foliar herbivory", "Plant: Specific leaf area", "Plant: Specific root length"],
                       "range": ["#483D8B", "#48D1CC", "#4169E1", "#D2B48C", "#A0522D", "#8B8378", "#7CFC00", "#006400", "#9ACD32"]},
             "legend": {"title": null, "orient": "none", "legendX": 224, "legendY": 95, "symbolType": "stroke", "symbolSize": 169, "symbolStrokeWidth": 2.5, "labelFont": "Liberation Sans", "labelFontSize": 13, "labelColor": "#222", "rowPadding": 2.6, "labelOffset": 11, "padding": 0}}
         }},
        {"data": {"name": "notes"}, "transform": [{"filter": "datum.panel === 'f'"}],
         "mark": {"type": "text", "align": "left", "baseline": "alphabetic", "font": "Liberation Sans", "fontWeight": "bold", "fontSize": 20},
         "encoding": {"x": {"datum": -1.15, "title": null}, "y": {"datum": 0.4037, "title": null}, "text": {"field": "tag"}}},
        {"data": {"name": "notes"}, "transform": [{"filter": "datum.panel === 'f'"}],
         "mark": {"type": "text", "align": "left", "baseline": "alphabetic", "font": "DejaVu Sans", "fontStyle": "italic", "fontSize": 20, "dx": 28.5},
         "encoding": {"x": {"datum": -1.15, "title": null}, "y": {"datum": 0.4037, "title": null}, "text": {"field": "species"}}},
        {"data": {"name": "notes"}, "transform": [{"filter": "datum.panel === 'f'"}],
         "mark": {"type": "text", "align": "left", "baseline": "alphabetic", "font": "DejaVu Sans", "fontStyle": "italic", "fontSize": 20, "dx": 6, "dy": 26.7},
         "encoding": {"x": {"datum": -1.15, "title": null}, "y": {"datum": 0.4037, "title": null}, "text": {"field": "p"}}},
        {"data": {"name": "notes"}, "transform": [{"filter": "datum.panel === 'f'"}],
         "mark": {"type": "text", "align": "left", "baseline": "alphabetic", "font": "DejaVu Sans", "fontSize": 20, "dx": 28, "dy": 26.7},
         "encoding": {"x": {"datum": -1.15, "title": null}, "y": {"datum": 0.4037, "title": null}, "text": {"field": "stat"}}},
        {"data": {"name": "notes"}, "transform": [{"filter": "datum.panel === 'f'"}],
         "mark": {"type": "text", "align": "left", "baseline": "alphabetic", "font": "DejaVu Sans", "fontSize": 20, "dx": 6, "dy": 54.7},
         "encoding": {"x": {"datum": -1.15, "title": null}, "y": {"datum": 0.4037, "title": null}, "text": {"field": "pct"}}}
      ]
    }
  ]
}
